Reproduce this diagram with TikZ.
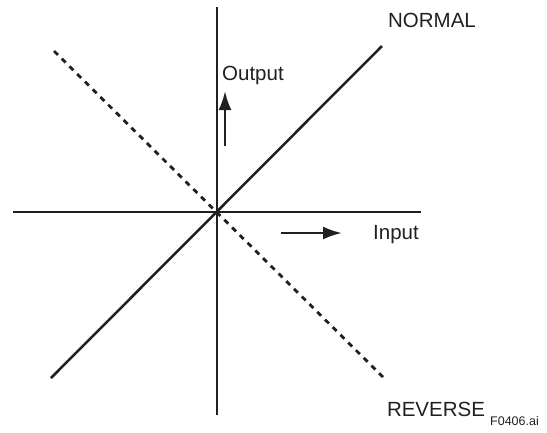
\documentclass[tikz,border=0pt]{standalone}
\usepackage{fontspec}
\setmainfont{Liberation Sans}
\usetikzlibrary{positioning, calc, arrows.meta}
\definecolor{Ink}{HTML}{231F20}
\tikzset{
    axisline/.style={line width=2.5pt, color=Ink},
    normalline/.style={line width=2.5pt, color=Ink},
    reverseline/.style={line width=2.8pt, color=Ink, dash pattern=on 5.5pt off 5.4pt},
    dirarrow/.style={-{Latex[length=19pt, width=13pt]}, line width=2.5pt, color=Ink},
    lbl/.style={inner sep=0pt, text=Ink, font=\fontsize{20.5}{24}\selectfont},
    tag/.style={inner sep=0pt, text=Ink, font=\fontsize{12.5}{15}\selectfont},
}
\begin{document}
\begin{tikzpicture}[x=1pt, y=-1pt]
    \useasboundingbox (0,0) rectangle (547,432);
    % axes
    \coordinate (origin) at (217,212);
    \coordinate (ytop) at (217,7);
    \coordinate (ybot) at (217,415);
    \coordinate (xleft) at (13,212);
    \coordinate (xright) at (421,212);
    \draw[axisline] (ytop) -- (ybot);
    \draw[axisline] (xleft) -- (xright);
    % characteristics
    \coordinate (nlow) at (51,378);
    \coordinate (nhigh) at (382,46);
    \coordinate (rhigh) at (54,51);
    \coordinate (rlow) at (384,378);
    \draw[normalline] (nlow) -- (nhigh);
    \draw[reverseline] (rhigh) -- (rlow);
    % direction arrows
    \coordinate (outfrom) at (225,146);
    \coordinate (outto) at (225,91);
    \coordinate (infrom) at (281,233);
    \coordinate (into) at (342,233);
    \draw[dirarrow] (outfrom) -- (outto);
    \draw[dirarrow] (infrom) -- (into);
    % labels
    \node[lbl, anchor=base west] (output) at (222,80) {Output};
    \node[lbl, anchor=base west] (input) at (373,239) {Input};
    \node[lbl, anchor=base] (normal) at (432,27) {NORMAL};
    \node[lbl, anchor=base] (reverse) at (436,416) {REVERSE};
    \node[tag, anchor=base west] (fig) at (490,425) {F0406.ai};
\end{tikzpicture}
\end{document}
